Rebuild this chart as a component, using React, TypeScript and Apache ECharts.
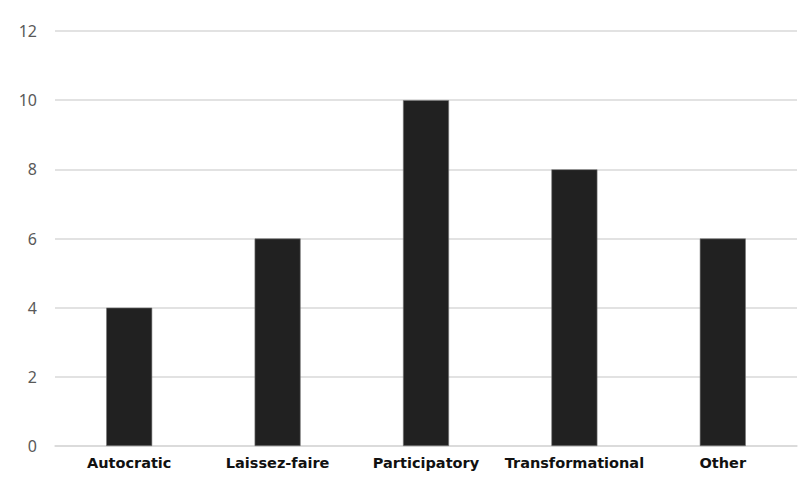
import React, { useEffect, useRef } from "react";
import * as echarts from "echarts";

const categories = ["Autocratic", "Laissez-faire", "Participatory", "Transformational", "Other"];
const counts = [4, 6, 10, 8, 6];
const yTicks = { min: 0, max: 12, interval: 2 };

export default function App() {
  const ref = useRef<HTMLDivElement>(null);

  useEffect(() => {
    document.body.style.margin = "0";
    const chart = echarts.init(ref.current!, null, { renderer: "svg" });
    chart.setOption({
      animation: false,
      backgroundColor: "#ffffff",
      grid: { left: 55, right: 11, top: 31, bottom: 43, containLabel: false },
      xAxis: {
        type: "category",
        data: categories,
        axisLine: { show: true, lineStyle: { color: "#d9d9d9", width: 1.5 } },
        axisTick: { show: false },
        axisLabel: {
          interval: 0,
          color: "#111111",
          fontFamily: "DejaVu Sans",
          fontWeight: "bold",
          fontSize: 14.5,
          margin: 9,
        },
      },
      yAxis: {
        type: "value",
        min: yTicks.min,
        max: yTicks.max,
        interval: yTicks.interval,
        axisLine: { show: false },
        axisTick: { show: false },
        splitLine: { lineStyle: { color: "#d9d9d9", width: 1.5 } },
        axisLabel: {
          color: "#595959",
          fontFamily: "'Noto Sans', sans-serif",
          fontSize: 16,
          margin: 18,
        },
      },
      series: [
        {
          type: "bar",
          data: counts,
          barWidth: 46,
          itemStyle: { color: "#212121", borderColor: "#777777", borderWidth: 0.6 },
        },
      ],
    });
    return () => chart.dispose();
  }, []);

  return <div ref={ref} style={{ width: 808, height: 489 }} />;
}
